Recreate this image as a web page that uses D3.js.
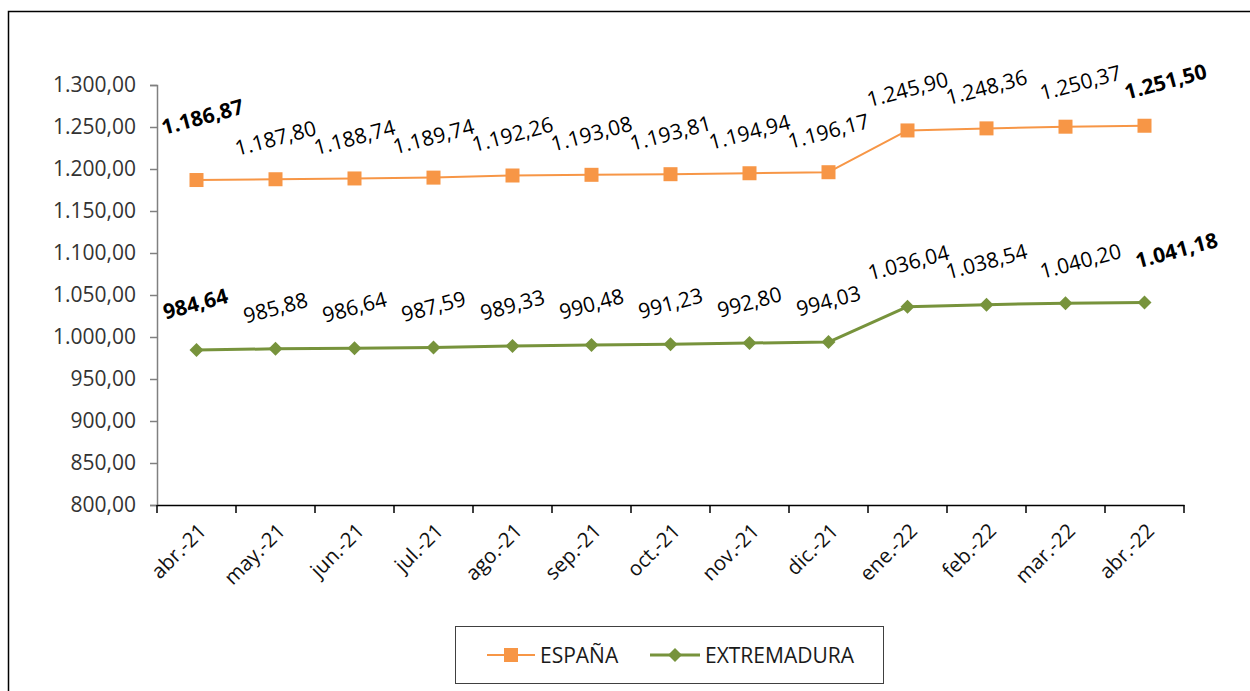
<!DOCTYPE html>
<html><head><meta charset="utf-8">
<script src="https://cdn.jsdelivr.net/npm/d3@7/dist/d3.min.js"></script>
<style>html,body{margin:0;padding:0;background:#fff;}svg{display:block;}</style>
</head><body>
<svg id="c" width="1250" height="691"></svg>
<script>
const categories = ["abr.-21","may.-21","jun.-21","jul.-21","ago.-21","sep.-21","oct.-21","nov.-21","dic.-21","ene.-22","feb.-22","mar.-22","abr.-22"];
const espana = [1186.87,1187.80,1188.74,1189.74,1192.26,1193.08,1193.81,1194.94,1196.17,1245.90,1248.36,1250.37,1251.50];
const extremadura = [984.64,985.88,986.64,987.59,989.33,990.48,991.23,992.80,994.03,1036.04,1038.54,1040.20,1041.18];
const yTicks = [800,850,900,950,1000,1050,1100,1150,1200,1250,1300];
const seriesNames = ["ESPAÑA","EXTREMADURA"];

const FONT = "'Open Sans', 'Noto Sans', sans-serif";
const locale = d3.formatLocale({decimal:",", thousands:".", grouping:[3], currency:["",""]});
const fmt = locale.format(",.2f");

const svg = d3.select("#c");
svg.append("rect").attr("x",8.5).attr("y",11.5).attr("width",1260).attr("height",700)
  .attr("fill","none").attr("stroke","#000").attr("stroke-width",1.5);

const L = 157, R = 1184, T = 85, B = 505;
const x = d3.scaleBand().domain(categories).range([L,R]).padding(0);
const y = d3.scaleLinear().domain([800,1300]).range([B,T]);
const cx = c => x(c) + x.bandwidth()/2;

// y axis
const ya = svg.append("g").attr("transform",`translate(${L},0)`)
  .call(d3.axisLeft(y).tickValues(yTicks).tickFormat(fmt).tickSizeOuter(0).tickSize(7).tickPadding(14));
ya.select(".domain").attr("stroke","#808080").attr("stroke-width",1.5);
ya.selectAll(".tick line").attr("stroke","#808080").attr("stroke-width",1.5);
ya.selectAll(".tick text").attr("font-family",FONT).attr("font-size",21).attr("fill","#333");

// x axis
const xa = svg.append("g").attr("transform",`translate(0,${B})`)
  .call(d3.axisBottom(x).tickSize(0).tickSizeOuter(0).tickFormat(""));
xa.select(".domain").attr("stroke","#000").attr("stroke-width",1.5);
xa.selectAll(".tick").remove();
const xtickPos = categories.map(c => x(c)).concat([R]);
svg.append("g").selectAll("line").data(xtickPos).join("line")
  .attr("x1",d=>d).attr("x2",d=>d).attr("y1",B).attr("y2",B+8)
  .attr("stroke","#000").attr("stroke-width",1.5);
svg.append("g").selectAll("text").data(categories).join("text")
  .attr("transform",d=>`translate(${cx(d)+6},${B+22}) rotate(-45)`)
  .attr("text-anchor","end").attr("dy","0.35em")
  .attr("font-family",FONT).attr("font-size",20.5).attr("fill","#111")
  .text(d=>d);

// series
const series = [
  {name:seriesNames[0], values:espana, color:"#F79646", width:2, marker:"square",
   nudge:{0:[6,-22],11:[15,-3],12:[21,-3]}},
  {name:seriesNames[1], values:extremadura, color:"#77933C", width:3, marker:"diamond",
   nudge:{0:[-1,-5],9:[1,-3],10:[0,-2],11:[15,-1],12:[32,-11]}}
];

series.forEach(s => {
  const line = d3.line().x((d,i)=>cx(categories[i])).y(d=>y(d));
  svg.append("path").datum(s.values).attr("d",line)
    .attr("fill","none").attr("stroke",s.color).attr("stroke-width",s.width).attr("stroke-linejoin","round");
  const g = svg.append("g");
  if (s.marker === "square") {
    g.selectAll("rect").data(s.values).join("rect")
      .attr("x",(d,i)=>cx(categories[i])-7).attr("y",d=>y(d)-7)
      .attr("width",14).attr("height",14).attr("fill",s.color);
  } else {
    g.selectAll("path").data(s.values).join("path")
      .attr("transform",(d,i)=>`translate(${cx(categories[i])},${y(d)})`)
      .attr("d","M0,-7L7,0L0,7L-7,0Z").attr("fill",s.color);
  }
  const n = s.values.length;
  svg.append("g").selectAll("text").data(s.values).join("text")
    .attr("transform",(d,i)=>{
      const nd = s.nudge[i] || [0,0];
      return `translate(${cx(categories[i])+nd[0]},${y(d)-41+nd[1]}) rotate(-15)`;
    })
    .attr("text-anchor","middle").attr("dy","0.35em")
    .attr("font-family",FONT).attr("font-size",21).attr("fill","#000")
    .attr("font-weight",(d,i)=> (i===0||i===n-1) ? "bold" : "normal")
    .text(d=>fmt(d));
});

// legend
const lg = svg.append("g");
lg.append("rect").attr("x",455.5).attr("y",626.5).attr("width",428).attr("height",57)
  .attr("fill","#fff").attr("stroke","#404040").attr("stroke-width",1);
const legItems = [
  {name:seriesNames[0], color:"#F79646", width:2, marker:"square", x1:487, x2:535, tx:540},
  {name:seriesNames[1], color:"#77933C", width:3, marker:"diamond", x1:650, x2:700, tx:705}
];
legItems.forEach(it => {
  const ly = 655;
  lg.append("line").attr("x1",it.x1).attr("x2",it.x2).attr("y1",ly).attr("y2",ly)
    .attr("stroke",it.color).attr("stroke-width",it.width);
  const mx = (it.x1+it.x2)/2;
  if (it.marker==="square") lg.append("rect").attr("x",mx-7).attr("y",ly-7).attr("width",14).attr("height",14).attr("fill",it.color);
  else lg.append("path").attr("transform",`translate(${mx},${ly})`).attr("d","M0,-7L7,0L0,7L-7,0Z").attr("fill",it.color);
  lg.append("text").attr("x",it.tx).attr("y",ly).attr("dy","0.36em")
    .attr("font-family",FONT).attr("font-size",21).attr("fill","#1a1a1a").text(it.name);
});
</script>
</body></html>
